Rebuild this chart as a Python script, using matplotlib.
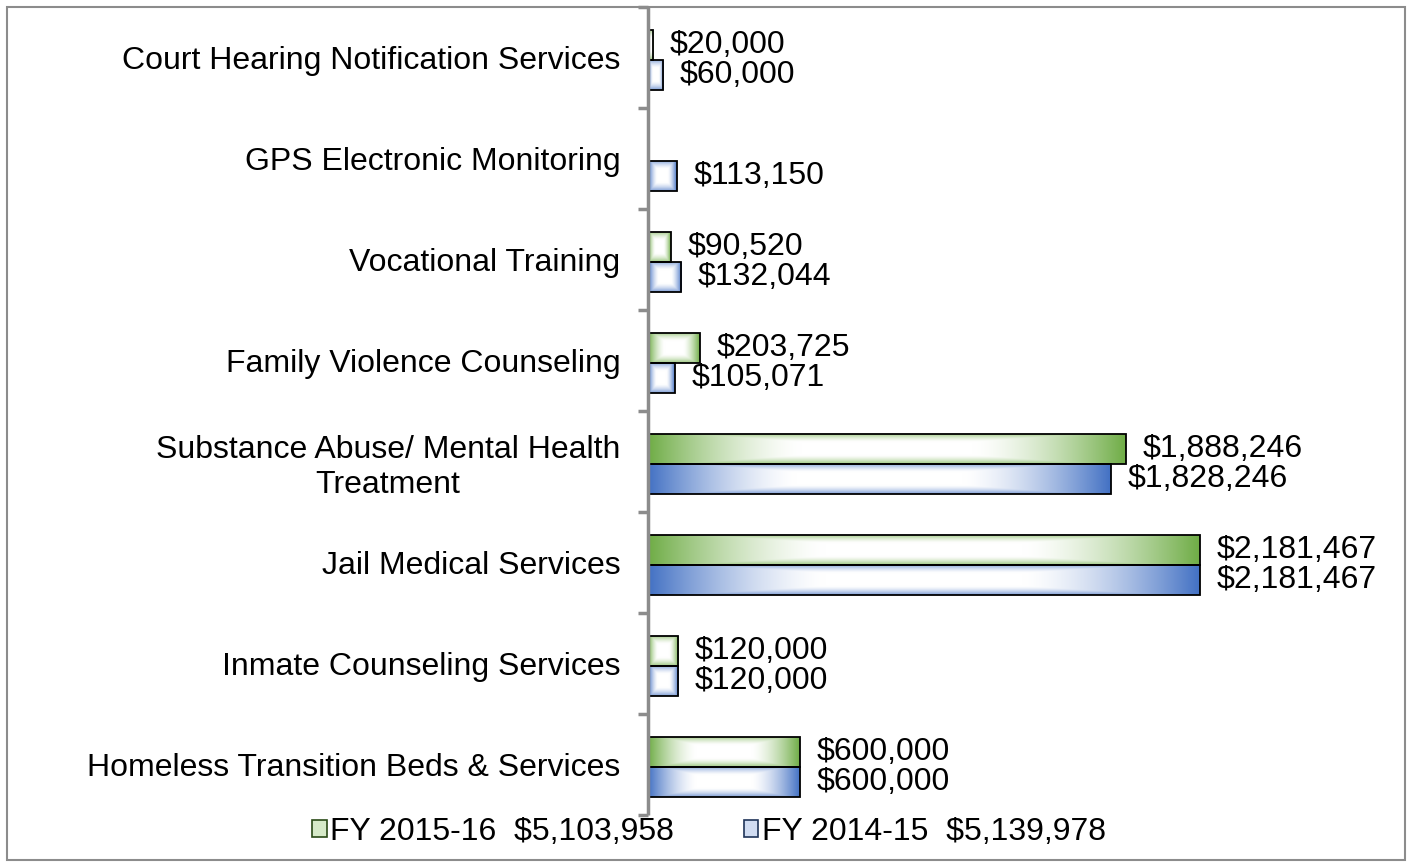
import numpy as np
import matplotlib
matplotlib.use("Agg")
import matplotlib.pyplot as plt
from matplotlib.patches import Rectangle, Patch

# ── data ─────────────────────────────────────────────────────────────────────
categories = [
    "Court Hearing Notification Services",
    "GPS Electronic Monitoring",
    "Vocational Training",
    "Family Violence Counseling",
    "Substance Abuse/ Mental Health\nTreatment",
    "Jail Medical Services",
    "Inmate Counseling Services",
    "Homeless Transition Beds & Services",
]
fy1516 = [20000, 0, 90520, 203725, 1888246, 2181467, 120000, 600000]
fy1415 = [60000, 113150, 132044, 105071, 1828246, 2181467, 120000, 600000]
legend_labels = ["FY 2015-16  $5,103,958", "FY 2014-15  $5,139,978"]

GREEN = np.array([112, 173, 71]) / 255.0
BLUE = np.array([68, 114, 196]) / 255.0

plt.rcParams["font.family"] = ["Liberation Sans", "DejaVu Sans"]
FS = 23


def gradient_img(colour, nx=200, ny=40):
    """Rectangular 'from centre' gradient: white in the middle, colour at edges."""
    u = np.linspace(-0.5, 0.5, nx)
    v = np.linspace(-0.5, 0.5, ny)
    U, V = np.meshgrid(u, v)
    d = np.maximum(np.abs(U), 0.85 * np.abs(V))
    frac = np.clip((d - 0.18) / 0.32, 0, 1) ** 1.5
    img = 1 - frac[..., None] * (1 - colour[None, None, :])
    return img


def draw_bar(ax, y, width, h, colour):
    if not width:
        return
    rect = ax.barh(y, width, height=h, color="none", edgecolor="black",
                   linewidth=1.3, zorder=3)[0]
    im = ax.imshow(gradient_img(colour), extent=[0, width, y - h / 2, y + h / 2],
                   aspect="auto", zorder=2, interpolation="bilinear")
    im.set_clip_path(rect)
    ax.annotate(f"${width:,.0f}", (width, y), xytext=(12, 0),
                textcoords="offset points", va="center", ha="left", fontsize=FS)


fig = plt.figure(figsize=(14.13, 8.67), dpi=100)
ax = fig.add_axes([648 / 1413, 1 - 815 / 867, (1400 - 648) / 1413, (815 - 7) / 867])

n = len(categories)
ypos = np.arange(n)[::-1]
h = 0.30
shift = -0.025
for y, g, b in zip(ypos, fy1516, fy1415):
    draw_bar(ax, y + shift + h / 2, g, h, GREEN)
    draw_bar(ax, y + shift - h / 2, b, h, BLUE)

ax.set_xlim(0, 2972000)
ax.set_ylim(-0.5, n - 0.5)

for s in ("top", "right", "bottom"):
    ax.spines[s].set_visible(False)
ax.spines["left"].set_color("#8c8c8c")
ax.spines["left"].set_linewidth(2.5)
ax.spines["left"].set_capstyle("butt")
ax.spines["left"].set_zorder(5)
ax.set_xticks([])

ax.set_yticks(ypos)
ax.set_yticklabels(categories, fontsize=FS)
for t in ax.get_yticklabels():
    t.set_multialignment("center")
ax.tick_params(axis="y", which="major", length=0, pad=20)
ax.set_yticks(np.arange(-0.5, n, 1.0), minor=True)
ax.tick_params(axis="y", which="minor", length=7, width=2.5, color="#8c8c8c")

handles = [
    Patch(facecolor="#d6eac8", edgecolor="#2a4a17", linewidth=1.2),
    Patch(facecolor="#d0dcf2", edgecolor="#1f3459", linewidth=1.2),
]
fig.legend(handles, legend_labels, loc="center", ncol=2, frameon=False,
           bbox_to_anchor=(709 / 1413, 1 - 832 / 867), fontsize=FS,
           handlelength=0.45, handleheight=0.45, handletextpad=0.1,
           columnspacing=2.2)

fig.patches.append(Rectangle((7 / 1413, 7 / 867), (1405 - 7) / 1413, (860 - 7) / 867,
                             transform=fig.transFigure, fill=False,
                             edgecolor="#8c8c8c", linewidth=1.5))

fig.savefig("out.png", dpi=100)
